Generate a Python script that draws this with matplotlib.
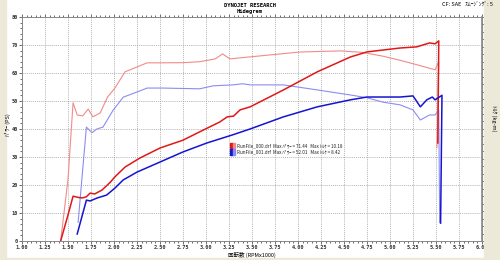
import matplotlib
matplotlib.use("Agg")
import matplotlib.pyplot as plt
from matplotlib.patches import Rectangle
from matplotlib.ticker import MultipleLocator, FormatStrFormatter

JP = ['Noto Sans CJK JP', 'DejaVu Sans']

# RunFile_000 (赤)
rpm_pw0 = [1.42, 1.50, 1.555, 1.62, 1.66, 1.70, 1.74, 1.79, 1.87, 1.96, 2.01, 2.12, 2.28, 2.50,
           2.75, 2.97, 3.15, 3.23, 3.30, 3.37, 3.48, 3.84, 4.21, 4.57, 4.75, 5.11, 5.29, 5.43,
           5.49, 5.53, 5.52]
pw0 = [0, 9.3, 16.0, 15.5, 15.4, 15.8, 17.1, 16.8, 18.2, 21.0, 22.9, 26.4, 29.6, 33.2,
       36.0, 39.6, 42.5, 44.3, 44.6, 46.8, 47.9, 53.9, 60.4, 65.7, 67.5, 68.9, 69.3, 70.7,
       70.4, 71.44, 35.0]
rpm_tq0 = [1.42, 1.50, 1.555, 1.60, 1.66, 1.72, 1.77, 1.85, 1.93, 2.01, 2.12, 2.25, 2.36, 2.50,
           2.75, 2.93, 3.10, 3.18, 3.26, 3.48, 4.02, 4.46, 4.70, 4.92, 5.10, 5.29, 5.49, 5.53,
           5.51]
tq0 = [0, 3.3, 7.4, 6.75, 6.7, 7.07, 6.65, 6.86, 7.71, 8.19, 9.06, 9.32, 9.54, 9.54,
       9.55, 9.6, 9.75, 10.02, 9.75, 9.86, 10.12, 10.18, 10.1, 9.9, 9.69, 9.44, 9.17, 9.6,
       5.0]

# RunFile_001 (青)
rpm_pw1 = [1.60, 1.70, 1.74, 1.82, 1.92, 2.01, 2.10, 2.25, 2.50, 2.75, 3.01, 3.29, 3.48, 3.84,
           4.21, 4.57, 4.75, 4.92, 5.11, 5.25, 5.33, 5.40, 5.46, 5.49, 5.565, 5.55]
pw1 = [2.5, 14.6, 14.3, 15.4, 16.4, 18.9, 21.8, 24.6, 28.2, 31.8, 35.0, 37.9, 40.0, 44.3,
       47.9, 50.4, 51.4, 51.4, 51.4, 51.8, 47.9, 50.4, 51.4, 50.4, 52.01, 6.4]
rpm_tq1 = [1.61, 1.70, 1.76, 1.815, 1.88, 1.99, 2.10, 2.25, 2.36, 2.53, 2.93, 3.08, 3.29, 3.40,
           3.48, 3.84, 4.21, 4.57, 4.75, 4.92, 5.11, 5.25, 5.33, 5.43, 5.49, 5.53, 5.54]
tq1 = [1.0, 6.1, 5.8, 6.0, 6.1, 7.0, 7.7, 7.98, 8.19, 8.19, 8.15, 8.31, 8.36, 8.42,
       8.36, 8.36, 8.09, 7.82, 7.67, 7.44, 7.29, 7.02, 6.48, 6.75, 6.75, 7.0, 1.0]

legend_txt = ["RunFile_000.drf  Max ﾊﾟﾜｰ = 71.44   Max ﾄﾙｸ = 10.18",
              "RunFile_001.drf  Max ﾊﾟﾜｰ = 52.01   Max ﾄﾙｸ = 8.42"]

dark_red, light_red = '#e01818', '#f28a8a'
dark_blue, light_blue = '#1414d2', '#8c8cf0'

fig = plt.figure(figsize=(5, 2.6), dpi=100, facecolor='white')
# 窓の枠っぽい背景
fig.patches.append(Rectangle((0, 0), 0.012, 1, transform=fig.transFigure, color='#ece9d8', zorder=0))
fig.patches.append(Rectangle((0.968, 0), 0.032, 1, transform=fig.transFigure, color='#ece9d8', zorder=0))
fig.patches.append(Rectangle((0, 0), 1, 0.008, transform=fig.transFigure, color='#ece9d8', zorder=0))

ax = fig.add_axes([0.044, 0.073, 0.92, 0.862])
ax2 = ax.twinx()

ax.plot(rpm_tq0, [t / 0.15 for t in tq0], color=light_red, lw=0.8)
ax.plot(rpm_tq1, [t / 0.15 for t in tq1], color=light_blue, lw=0.8)
ax.plot(rpm_pw0, pw0, color=dark_red, lw=1.1)
ax.plot(rpm_pw1, pw1, color=dark_blue, lw=1.1)

ax.set_xlim(1.0, 6.0)
ax.set_ylim(0, 80)
ax2.set_ylim(0, 12)
ax.xaxis.set_major_locator(MultipleLocator(0.25))
ax.xaxis.set_minor_locator(MultipleLocator(0.05))
ax.xaxis.set_major_formatter(FormatStrFormatter('%.2f'))
ax.yaxis.set_major_locator(MultipleLocator(10))
ax.yaxis.set_minor_locator(MultipleLocator(2))
ax2.yaxis.set_major_locator(MultipleLocator(2))
ax2.yaxis.set_minor_locator(MultipleLocator(0.4))

ax.grid(True, which='major', color='#9a9a9a', linestyle=(0, (1.5, 1.5)), linewidth=0.5)
for a in (ax, ax2):
    a.tick_params(which='both', labelsize=3.8, length=2, width=0.5, pad=1, colors='#333333')
    a.tick_params(which='minor', length=1.2)
    for s in a.spines.values():
        s.set_color('#888888')
        s.set_linewidth(0.6)
ax2.spines['right'].set_linewidth(1.2)
ax.tick_params(axis='x', which='both', top=True)
for lab in ax.get_xticklabels() + ax.get_yticklabels() + ax2.get_yticklabels():
    lab.set_fontfamily('DejaVu Sans Mono')
    lab.set_fontweight('bold')

# 軸ラベル
fig.text(0.504, 0.018, '回転数 (RPMx1000)', family=JP, fontsize=4, ha='center', va='center')
fig.text(0.016, 0.52, 'ﾊﾟﾜｰ (PS)', family=JP, fontsize=4, rotation=90, ha='center', va='center')
fig.text(0.988, 0.546, 'ﾄﾙｸ (kg-m)', family=JP, fontsize=4, rotation=-90, ha='center', va='center')

fig.text(0.5, 0.99, 'DYNOJET RESEARCH', ha='center', va='top', fontsize=4,
         family='DejaVu Sans Mono', fontweight='bold')
fig.text(0.5, 0.964, 'Hidegrem', ha='center', va='top', fontsize=4,
         family='DejaVu Sans Mono', fontweight='bold')
fig.text(0.985, 0.99, 'CF: SAE   ｽﾑｰｼﾞﾝｸﾞ: 5', ha='right', va='top', fontsize=4, family=JP)

# 凡例
for i, (txt, cd, cl) in enumerate(zip(legend_txt, [dark_red, dark_blue], [light_red, light_blue])):
    y = 0.425 - i * 0.028
    ax.add_patch(Rectangle((0.452, y - 0.012), 0.006, 0.026, transform=ax.transAxes,
                           color=cd, zorder=5))
    ax.add_patch(Rectangle((0.458, y - 0.012), 0.006, 0.026, transform=ax.transAxes,
                           color=cl, zorder=5))
    ax.text(0.467, y, txt, transform=ax.transAxes, fontsize=3.3, va='center',
            family=['Noto Sans CJK JP', 'DejaVu Sans'], color='#222222')

fig.savefig('out.png', dpi=100)
